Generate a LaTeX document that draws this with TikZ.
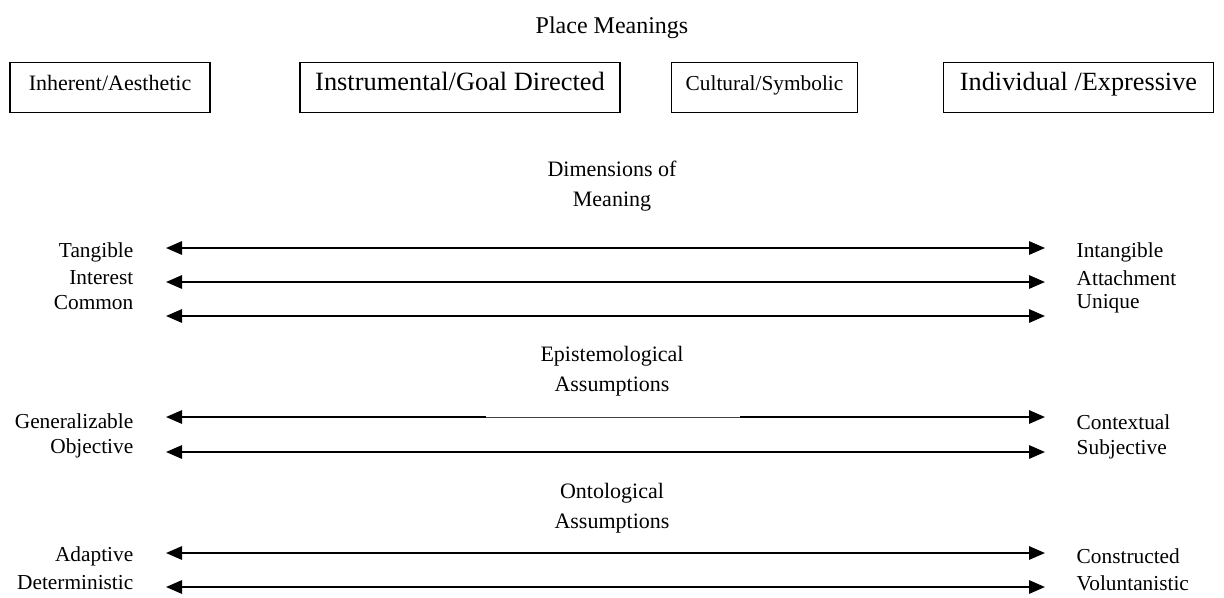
\documentclass[tikz,border=0pt]{standalone}
\usepackage{fontspec}
\setmainfont{Liberation Serif}
\usetikzlibrary{arrows.meta}
\begin{document}
\begin{tikzpicture}[x=0.75pt,y=-0.75pt,
  meaningbox/.style={draw,line width=0.8pt,minimum height=38pt,inner xsep=0pt,text height=0.7em,text depth=0.22em},
  heading/.style={align=center,font=\fontsize{16.5}{22.5}\selectfont},
  leftlab/.style={anchor=east,align=right,font=\fontsize{16}{19.5}\selectfont},
  rightlab/.style={anchor=west,align=left,font=\fontsize{16}{19.5}\selectfont},
  dimarrow/.style={line width=1.5pt,{Triangle[length=12pt,width=10pt]}-{Triangle[length=12pt,width=10pt]}}]
\useasboundingbox (0,0) rectangle (1224,597);
\node[font=\fontsize{18}{22}\selectfont] (title) at (612,28) {Place Meanings};
\node[meaningbox,minimum width=150pt,font=\fontsize{16.5}{19}\selectfont] (b1) at (110,87.5) {Inherent/Aesthetic};
\node[meaningbox,minimum width=240pt,font=\fontsize{19.8}{22}\selectfont] (b2) at (460,87.5) {Instrumental/Goal Directed};
\node[meaningbox,minimum width=139pt,font=\fontsize{16}{19}\selectfont] (b3) at (764.5,87.5) {Cultural/Symbolic};
\node[meaningbox,minimum width=203pt,font=\fontsize{19.7}{22}\selectfont] (b4) at (1078.5,87.5) {Individual /Expressive};
% Dimensions
\node[heading] (h1) at (612,186) {Dimensions of\\Meaning};
\coordinate (a1l) at (166,248); \coordinate (a1r) at (1045,248);
\coordinate (a2l) at (166,282); \coordinate (a2r) at (1045,282);
\coordinate (a3l) at (166,316); \coordinate (a3r) at (1045,316);
\draw[dimarrow] (a1l) -- (a1r);
\draw[dimarrow] (a2l) -- (a2r);
\draw[dimarrow] (a3l) -- (a3r);
\node[leftlab] (l1) at (138,252) {Tangible};
\node[leftlab] (l2) at (138,278) {Interest};
\node[leftlab] (l3) at (138,303) {Common};
\node[rightlab] (r1) at (1072,252) {Intangible};
\node[rightlab] (r2) at (1072,278) {Attachment};
\node[rightlab] (r3) at (1072,304) {Unique};
% Epistemological
\node[heading] (h2) at (612,371) {Epistemological\\Assumptions};
\coordinate (e1l) at (166,417); \coordinate (e1r) at (1045,417);
\coordinate (e2l) at (166,452); \coordinate (e2r) at (1045,452);
\draw[dimarrow] (e1l) -- (e1r);
\draw[dimarrow] (e2l) -- (e2r);
\fill[white] (486,414) rectangle (740,420);
\draw[line width=0.6pt,black!75] (486,417) -- (740,417);
\node[leftlab] (l4) at (138,421) {Generalizable};
\node[leftlab] (l5) at (138,448) {Objective};
\node[rightlab] (r4) at (1072,422) {Contextual};
\node[rightlab] (r5) at (1072,449) {Subjective};
% Ontological
\node[heading] (h3) at (612,508) {Ontological\\Assumptions};
\coordinate (o1l) at (166,553); \coordinate (o1r) at (1045,553);
\coordinate (o2l) at (166,587); \coordinate (o2r) at (1045,587);
\draw[dimarrow] (o1l) -- (o1r);
\draw[dimarrow] (o2l) -- (o2r);
\fill[white] (486,550) rectangle (740,556);
\draw[line width=0.9pt] (486,553) -- (740,553);
\node[leftlab] (l6) at (138,556) {Adaptive};
\node[leftlab] (l7) at (138,583) {Deterministic};
\node[rightlab] (r6) at (1072,556) {Constructed};
\node[rightlab] (r7) at (1072,583) {Voluntanistic};
\end{tikzpicture}
\end{document}
